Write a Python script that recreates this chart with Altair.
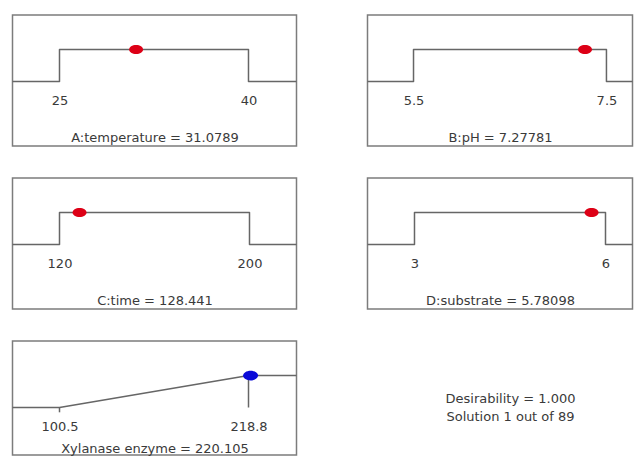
import altair as alt
import pandas as pd

# ---- data ----
factor_names = ["A:temperature", "B:pH", "C:time", "D:substrate"]
factor_low = [25, 5.5, 120, 3]
factor_high = [40, 7.5, 200, 6]
factor_opt = ["31.0789", "7.27781", "128.441", "5.78098"]

response_name = "Xylanase enzyme "
response_low = 100.5
response_high = 218.8
response_value = "220.105"

summary_lines = ["Desirability = 1.000", "Solution 1 out of 89"]

# ---- scale extents (left / right edge of each panel box) ----
factor_extent = [[21.27, 43.81], [5.023, 7.77], [100.21, 219.79], [2.262, 6.424]]
response_extent = [71.08, 248.84]
panel_width = [284, 265, 284, 265]

H = 131
H3 = 114
FONT = "DejaVu Sans"
TXT = "#3a3a3a"
LINE = "#666666"
ELLIPSE = "M-1,0A1,0.65,0,1,0,1,0A1,0.65,0,1,0,-1,0Z"


def yscale(h):
    # desirability 0 sits 66.5 px below the top, 1 unit = 32 px
    return alt.Scale(domain=[-(h - 66.5) / 32, 66.5 / 32], nice=False, zero=False)


def xscale(ext):
    return alt.Scale(domain=ext, nice=False, zero=False)


def x_axis(lo, hi, title, h, title_y):
    return alt.Axis(values=[lo, hi], format=".6~g", offset=-(h - 79), ticks=False, tickSize=0,
                    domain=False, grid=False, labelPadding=6, labelBaseline="middle",
                    labelFlush=False, labelFont=FONT, labelFontSize=13, labelColor=TXT,
                    title=title, titleFont=FONT, titleFontSize=13, titleBaseline="middle",
                    titleFontWeight="normal", titleColor=TXT, titleY=title_y)


def factor_panel(i):
    lo, hi = factor_low[i], factor_high[i]
    e0, e1 = factor_extent[i]
    path = pd.DataFrame({"x": [e0, lo, lo, hi, hi, e1],
                         "d": [0, 0, 1, 1, 0, 0],
                         "o": list(range(6))})
    title = f"{factor_names[i]} = {factor_opt[i]}"
    line = alt.Chart(path).mark_line(color=LINE, strokeWidth=1.5, strokeJoin="round").encode(
        x=alt.X("x:Q", scale=xscale([e0, e1]), axis=x_axis(lo, hi, title, H, 43.5)),
        y=alt.Y("d:Q", scale=yscale(H), axis=None),
        order="o:Q",
    )
    dot = alt.Chart(pd.DataFrame({"x": [float(factor_opt[i])], "d": [1]})).mark_point(
        shape=ELLIPSE, filled=True, size=196, color="#dd0016", opacity=1
    ).encode(
        x=alt.X("x:Q", scale=xscale([e0, e1])),
        y=alt.Y("d:Q", scale=yscale(H)),
    )
    return alt.layer(line, dot).properties(width=panel_width[i], height=H)


def response_panel():
    e0, e1 = response_extent
    lo, hi = response_low, response_high
    path = pd.DataFrame({"x": [e0, lo, hi, e1], "d": [0, 0, 1, 1], "o": list(range(4))})
    title = f"{response_name} = {response_value}"
    line = alt.Chart(path).mark_line(color=LINE, strokeWidth=1.5, strokeJoin="round").encode(
        x=alt.X("x:Q", scale=xscale([e0, e1]), axis=x_axis(lo, hi, title, H3, 28)),
        y=alt.Y("d:Q", scale=yscale(H3), axis=None),
        order="o:Q",
    )
    rules = alt.Chart(pd.DataFrame({"x": [lo, hi], "d": [0, 0], "d2": [-0.15, 1]})).mark_rule(
        color=LINE, strokeWidth=1.5
    ).encode(
        x=alt.X("x:Q", scale=xscale([e0, e1])),
        y=alt.Y("d:Q", scale=yscale(H3)),
        y2="d2:Q",
    )
    dot = alt.Chart(pd.DataFrame({"x": [float(response_value)], "d": [1]})).mark_point(
        shape=ELLIPSE, filled=True, size=225, color="#0a0ad8", opacity=1
    ).encode(
        x=alt.X("x:Q", scale=xscale([e0, e1])),
        y=alt.Y("d:Q", scale=yscale(H3)),
    )
    return alt.layer(line, rules, dot).properties(width=284, height=H3)


summary = alt.Chart(pd.DataFrame({"t": ["\n".join(summary_lines)]})).mark_text(
    font=FONT, fontSize=13, color=TXT, lineBreak="\n", lineHeight=18,
    align="center", baseline="middle"
).encode(
    text="t:N", x=alt.value(143), y=alt.value(58)
).properties(width=265, height=H3, view=alt.ViewBackground(stroke="transparent"))

row1 = alt.hconcat(factor_panel(0), factor_panel(1), spacing=71, bounds="flush")
row2 = alt.hconcat(factor_panel(2), factor_panel(3), spacing=71, bounds="flush")
row3 = alt.hconcat(response_panel(), summary, spacing=71, bounds="flush")

chart = alt.vconcat(row1, row2, row3, spacing=30).properties(
    padding={"left": 2.5, "top": 6, "right": 0, "bottom": 0}
).configure(background="white").configure_view(stroke="#7c7c7c", strokeWidth=1.5)

chart.save("out.html", embed_options={"renderer": "svg", "actions": False})
